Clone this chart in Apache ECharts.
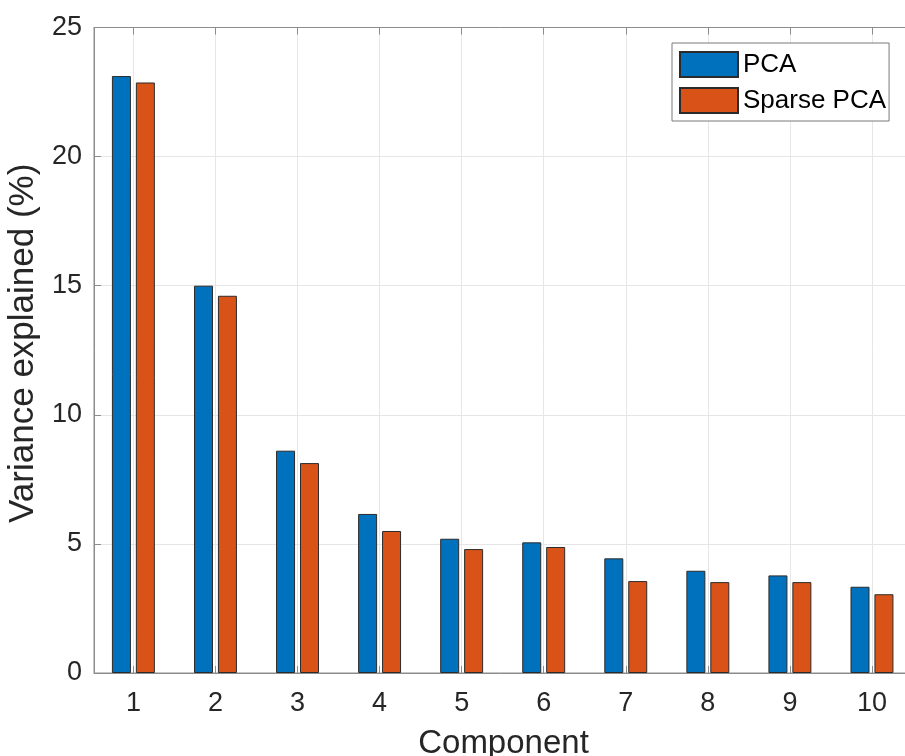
<!DOCTYPE html>
<html>
<head>
<meta charset="utf-8">
<script src="https://cdn.jsdelivr.net/npm/echarts@6/dist/echarts.min.js"></script>
<style>
  html, body { margin: 0; padding: 0; background: #fff; }
  #chart { width: 905px; height: 756px; }
</style>
</head>
<body>
<div id="chart"></div>
<script>
// Component indices and explained variance (%) per method
const components = [1, 2, 3, 4, 5, 6, 7, 8, 9, 10];
const pcaVariance = [23.12, 15.0, 8.61, 6.16, 5.20, 5.06, 4.44, 3.96, 3.78, 3.34];
const sparsePcaVariance = [22.87, 14.61, 8.13, 5.50, 4.80, 4.88, 3.56, 3.52, 3.52, 3.05];
const yTicks = [0, 5, 10, 15, 20, 25];
const seriesNames = ['PCA', 'Sparse PCA'];

const FONT = "'Liberation Sans', Arial, Helvetica, sans-serif";
const TEXT = '#262626';
const AXIS = '#8c8c8c';
const GRID = '#e6e6e6';

const chart = echarts.init(document.getElementById('chart'), null, { renderer: 'canvas' });

const toPoints = vals => components.map((c, i) => [c, vals[i]]);

const barStyle = color => ({
  color: color,
  borderColor: '#2b2b2b',
  borderWidth: 1
});

chart.setOption({
  animation: false,
  backgroundColor: '#ffffff',
  textStyle: { fontFamily: FONT },
  grid: {
    left: 94, top: 27.5, width: 819, height: 645.5,
    outerBoundsMode: 'none',
    containLabel: false,
    show: true, borderColor: AXIS, borderWidth: 1, backgroundColor: 'transparent'
  },
  legend: {
    orient: 'vertical',
    left: 672, top: 43,
    padding: [8, 3, 7, 7],
    itemWidth: 58, itemHeight: 25, itemGap: 9,
    icon: 'rect',
    backgroundColor: '#ffffff',
    borderColor: '#7a7a7a', borderWidth: 1,
    textStyle: { fontSize: 26, lineHeight: 25, color: '#000', fontFamily: FONT },
    data: seriesNames
  },
  xAxis: [{
    type: 'value',
    min: 0.52, max: 10.5, splitNumber: 10,
    name: 'Component', nameLocation: 'middle', nameGap: 54,
    nameTextStyle: { fontSize: 33, color: TEXT, fontFamily: FONT },
    axisLine: { show: true, lineStyle: { color: AXIS, width: 1 } },
    axisTick: { show: true, inside: true, length: 7, lineStyle: { color: AXIS } },
    axisLabel: {
      fontSize: 27, color: TEXT, margin: 17, fontFamily: FONT,
      showMinLabel: false, showMaxLabel: false,
      formatter: v => (Number.isInteger(v) && components.includes(v)) ? String(v) : ''
    },
    splitLine: { show: true, lineStyle: { color: GRID, width: 1 } }
  }, {
    type: 'value',
    position: 'top',
    min: 0.52, max: 10.5, splitNumber: 10,
    axisLine: { show: true, lineStyle: { color: AXIS, width: 1 } },
    axisTick: { show: true, inside: true, length: 7, lineStyle: { color: AXIS } },
    axisLabel: { show: false },
    splitLine: { show: false }
  }],
  yAxis: {
    type: 'value',
    min: yTicks[0], max: yTicks[yTicks.length - 1], interval: 5,
    name: 'Variance explained (%)', nameLocation: 'middle', nameGap: 47,
    nameTextStyle: { fontSize: 35, color: TEXT, fontFamily: FONT, padding: [0, 0, 0, 14] },
    axisLine: { show: true, lineStyle: { color: AXIS, width: 1 } },
    axisTick: { show: true, inside: true, length: 7, lineStyle: { color: AXIS } },
    axisLabel: { fontSize: 27, color: TEXT, margin: 12, fontFamily: FONT },
    splitLine: { show: true, lineStyle: { color: GRID, width: 1 } }
  },
  series: [{
    name: seriesNames[0],
    type: 'bar',
    xAxisIndex: 0,
    barWidth: 19,
    barGap: '26%',
    itemStyle: barStyle('#0072BD'),
    data: toPoints(pcaVariance)
  }, {
    name: seriesNames[1],
    type: 'bar',
    xAxisIndex: 0,
    barWidth: 19,
    barGap: '26%',
    itemStyle: barStyle('#D95319'),
    data: toPoints(sparsePcaVariance)
  }]
});
</script>
</body>
</html>
